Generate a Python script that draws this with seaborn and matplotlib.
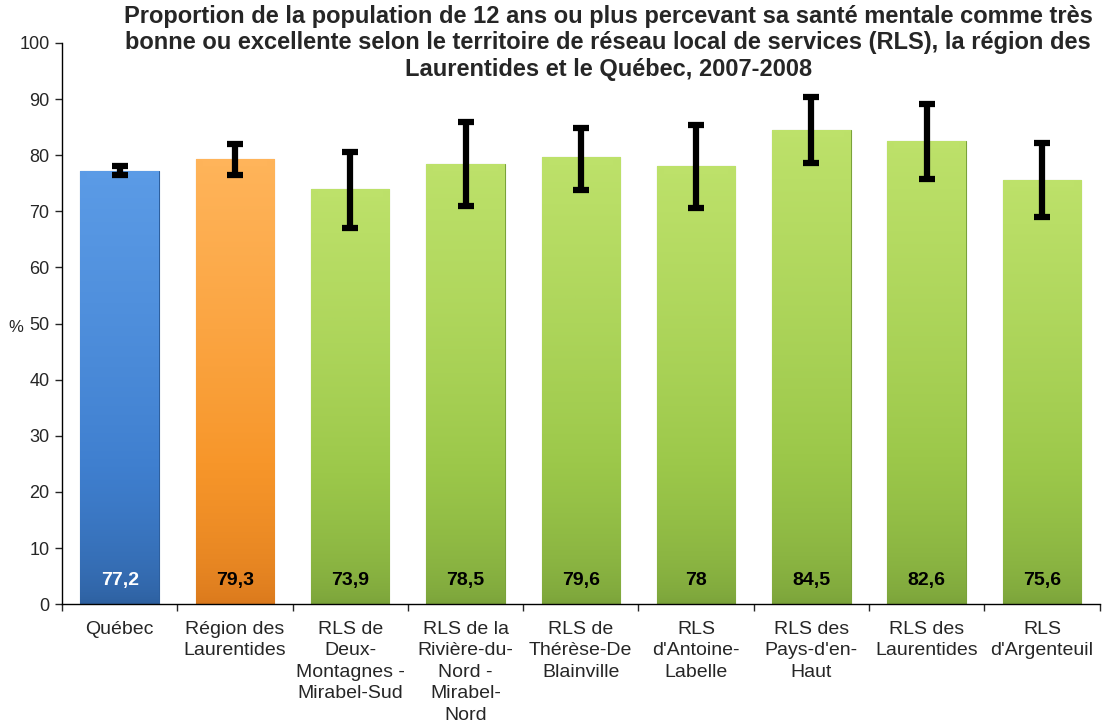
import numpy as np
import pandas as pd
import seaborn as sns
import matplotlib.pyplot as plt
from matplotlib.colors import LinearSegmentedColormap

# data
territoires = ["Québec", "Région des\nLaurentides", "RLS de\nDeux-\nMontagnes -\nMirabel-Sud",
               "RLS de la\nRivière-du-\nNord -\nMirabel-\nNord", "RLS de\nThérèse-De\nBlainville",
               "RLS\nd'Antoine-\nLabelle", "RLS des\nPays-d'en-\nHaut", "RLS des\nLaurentides",
               "RLS\nd'Argenteuil"]
valeurs = [77.2, 79.3, 73.9, 78.5, 79.6, 78.0, 84.5, 82.6, 75.6]
etiquettes = ["77,2", "79,3", "73,9", "78,5", "79,6", "78", "84,5", "82,6", "75,6"]
ic_bas = [76.4, 76.5, 67.1, 70.9, 73.8, 70.6, 78.6, 75.7, 68.9]
ic_haut = [78.0, 82.0, 80.5, 85.9, 84.8, 85.3, 90.3, 89.1, 82.1]

couleurs = ["#3f7fcf", "#f7962a"] + ["#9cc84a"] * 7
sombres = ["#2d5f9e", "#d9781c"] + ["#7aa23a"] * 7
clairs = ["#5b9be6", "#ffb45a"] + ["#bde16a"] * 7

df = pd.DataFrame({"territoire": territoires, "valeur": valeurs})

sns.set_style("white")
plt.rcParams['font.family'] = ['Liberation Sans', 'DejaVu Sans']

fig = plt.figure(figsize=(11.12, 7.27), dpi=100)
ax = fig.add_axes([0.0558, 0.169, 0.933, 0.772])
sns.barplot(data=df, x="territoire", y="valeur", hue="territoire", palette=couleurs,
            legend=False, width=0.68, ax=ax, saturation=1)

# fake the bevel / gradient look of the original
for i, p in enumerate(ax.patches):
    x0, w, h = p.get_x(), p.get_width(), p.get_height()
    cmap = LinearSegmentedColormap.from_list("g", [sombres[i], couleurs[i], clairs[i]])
    grad = np.linspace(0, 1, 256).reshape(-1, 1)
    grad = np.clip(grad ** 0.6, 0, 1)
    im = ax.imshow(grad, cmap=cmap, aspect="auto", origin="lower",
                   extent=[x0, x0 + w, 0, h], zorder=2)
    im.set_clip_path(p)
    ax.fill_between([x0 + 0.06, x0 + w - 0.06], h - 1.3, h, color=clairs[i], zorder=2.5, lw=0)
    p.set_edgecolor(sombres[i])
    p.set_linewidth(0.8)

ax.set_xlim(-0.5, len(territoires) - 0.5)

x = np.arange(len(territoires))
err = [np.array(valeurs) - np.array(ic_bas), np.array(ic_haut) - np.array(valeurs)]
ax.errorbar(x, valeurs, yerr=err, fmt="none", ecolor="black", elinewidth=4.5,
            capsize=5.5, capthick=4.5, zorder=5)

for i, lab in enumerate(etiquettes):
    ax.text(i, 4.3, lab, ha="center", va="center", fontsize=14, fontweight="bold",
            color="white" if i == 0 else "black", zorder=6)

ax.set_ylim(0, 100)
ax.set_yticks(range(0, 101, 10))
ax.tick_params(axis="y", labelsize=13, direction="out", length=5, width=1, left=True, pad=4)
ax.set_xticks(x)
ax.set_xticklabels(territoires, fontsize=14, linespacing=1.35)
ax.tick_params(axis="x", length=0, pad=12)
ax.set_xticks(np.arange(-0.5, len(territoires), 1), minor=True)
ax.tick_params(axis="x", which="minor", length=5, width=1, direction="out", bottom=True)
for s in ["top", "right"]:
    ax.spines[s].set_visible(False)
for s in ["left", "bottom"]:
    ax.spines[s].set_color("black")
    ax.spines[s].set_linewidth(1)
ax.set_xlabel("")
ax.set_ylabel("%", rotation=0, fontsize=12)
ax.yaxis.set_label_coords(-0.045, 0.48)

fig.text(0.547, 0.993, "Proportion de la population de 12 ans ou plus percevant sa santé mentale comme très\n"
         "bonne ou excellente selon le territoire de réseau local de services (RLS), la région des\n"
         "Laurentides et le Québec, 2007-2008",
         ha="center", va="top", fontsize=17, fontweight="bold", linespacing=1.18)

fig.savefig("out.png", dpi=100)
